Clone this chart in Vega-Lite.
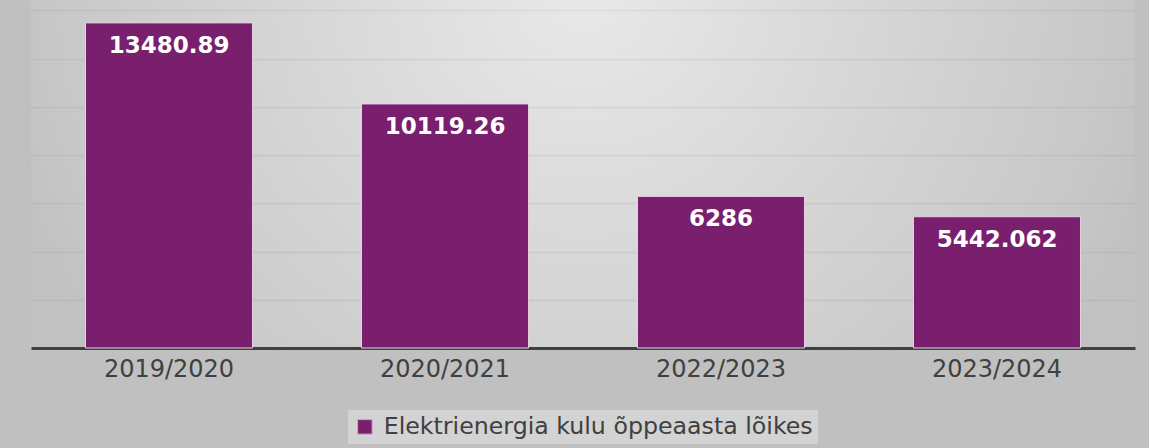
{
  "$schema": "https://vega.github.io/schema/vega-lite/v6.json",
  "width": 1104,
  "height": 348,
  "autosize": {"type": "none"},
  "padding": {"left": 31, "top": 0, "right": 14, "bottom": 100},
  "background": "#c0c0c0",
  "view": {
    "stroke": null,
    "fill": {
      "gradient": "radial",
      "x1": 0.5, "y1": 0.33, "r1": 0,
      "x2": 0.5, "y2": 0.33, "r2": 0.55,
      "stops": [
        {"offset": 0, "color": "#e9e9e9"},
        {"offset": 0.57, "color": "#d3d3d3"},
        {"offset": 0.87, "color": "#c8c8c8"},
        {"offset": 1, "color": "#c1c1c1"}
      ]
    }
  },
  "config": {
    "legend": {"layout": {"bottom": {"anchor": "middle"}}}
  },
  "data": {
    "values": [
      {"year": "2019/2020", "value": 13480.89, "series": "Elektrienergia kulu õppeaasta lõikes"},
      {"year": "2020/2021", "value": 10119.26, "series": "Elektrienergia kulu õppeaasta lõikes"},
      {"year": "2022/2023", "value": 6286, "series": "Elektrienergia kulu õppeaasta lõikes"},
      {"year": "2023/2024", "value": 5442.062, "series": "Elektrienergia kulu õppeaasta lõikes"}
    ]
  },
  "encoding": {
    "x": {
      "field": "year",
      "type": "nominal",
      "sort": null,
      "scale": {"paddingInner": 0.395, "paddingOuter": 0.1975},
      "axis": {
        "title": null,
        "labelAngle": 0,
        "ticks": false,
        "domainColor": "#404040",
        "domainWidth": 3,
        "labelFont": "DejaVu Sans",
        "labelFontSize": 24,
        "labelColor": "#404040",
        "labelPadding": 9
      }
    },
    "y": {
      "field": "value",
      "type": "quantitative",
      "scale": {"domain": [0, 14430], "nice": false},
      "axis": {
        "title": null,
        "labels": false,
        "ticks": false,
        "domain": false,
        "values": [2000, 4000, 6000, 8000, 10000, 12000, 14000],
        "grid": true,
        "gridColor": "#000000",
        "gridOpacity": 0.045,
        "gridWidth": 2
      }
    }
  },
  "layer": [
    {
      "mark": {"type": "bar", "stroke": "#e6cfe2", "strokeWidth": 1},
      "encoding": {
        "color": {
          "field": "series",
          "type": "nominal",
          "scale": {"range": ["#7a1f6d"]},
          "legend": {
            "title": null,
            "orient": "bottom",
            "direction": "horizontal",
            "offset": 29,
            "padding": 5,
            "fillColor": "#d3d3d3",
            "symbolType": "square",
            "symbolSize": 210,
            "symbolStrokeColor": "#c9a6c3",
            "symbolStrokeWidth": 1,
            "labelFont": "DejaVu Sans",
            "labelFontSize": 23.7,
            "labelColor": "#404040",
            "labelOffset": 7,
            "labelLimit": 600
          }
        }
      }
    },
    {
      "mark": {
        "type": "text",
        "color": "#ffffff",
        "font": "DejaVu Sans",
        "fontWeight": "bold",
        "fontSize": 23,
        "baseline": "alphabetic",
        "dy": 30
      },
      "encoding": {
        "text": {"field": "value", "type": "quantitative", "format": ".10~g"}
      }
    }
  ]
}
